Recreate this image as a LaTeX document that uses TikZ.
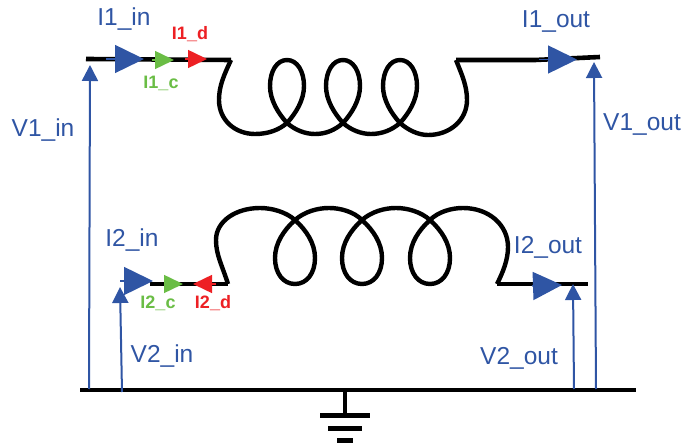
\documentclass[tikz,border=0pt]{standalone}
\usepackage{fontspec}
\usepackage{tikz}
\usepackage{xcolor}
\usetikzlibrary{arrows.meta}
\setmainfont{Liberation Sans}
\definecolor{primary}{RGB}{47, 85, 164}
\definecolor{secondary}{RGB}{237, 32, 36}
\definecolor{tertiary}{RGB}{106, 189, 69}
\tikzset{
    wire/.style={line width=4.6pt, black},
    coil/.style={line width=4.4pt, black, line join=round},
    voltage/.style={line width=2pt, primary, -{Triangle[length=16pt,width=16pt]}},
    mainflow/.style={line width=1.5pt, primary, -{Triangle[length=29pt,width=28pt]}},
    commonflow/.style={line width=1.5pt, tertiary, -{Triangle[length=19pt,width=18pt]}},
    diffflow/.style={line width=1.5pt, secondary, -{Triangle[length=19pt,width=18pt]}},
    biglabel/.style={primary, font=\fontsize{24.5}{26}\selectfont},
    commonlabel/.style={tertiary, font=\fontsize{18}{20}\selectfont\bfseries},
    difflabel/.style={secondary, font=\fontsize{18}{20}\selectfont\bfseries}
}

\begin{document}
\begin{tikzpicture}[x=1pt, y=-1pt]
\useasboundingbox (0,0) rectangle (683,446);

% points
\coordinate (top_l) at (86,59);
\coordinate (top_a) at (231,60);
\coordinate (top_b) at (456,60);
\coordinate (top_c) at (535,60);
\coordinate (top_r) at (600,57);
\coordinate (bot_a) at (228,284);
\coordinate (bot_l) at (150,284);
\coordinate (bot_b) at (497,284);
\coordinate (bot_r) at (588,284);
\coordinate (gnd_l) at (80,390);
\coordinate (gnd_r) at (636,390);
\coordinate (gnd_m) at (345,390);
\coordinate (gnd_s) at (345,415);

% upper winding
\draw[wire] (top_l) -- (top_a);
\draw[wire] (top_b) -- (top_c) -- (top_r);
\draw[coil] (top_a) .. controls (224,75) and (219,86) .. (219,100)
    .. controls (219,120) and (235,134) .. (255,134)
    .. controls (268,134) and (279,130) .. (287,123);
\foreach \x in {287,343,400} {
    \draw[coil] (\x,123) .. controls (\x+9,113) and (\x+17,100) .. (\x+17,86)
        .. controls (\x+17,71) and (\x+10,60) .. (\x,60)
        .. controls (\x-10,60) and (\x-17,71) .. (\x-17,86)
        .. controls (\x-17,100) and (\x-9,113) .. (\x,123);
}
\draw[coil] (287,123) .. controls (295,130) and (305,134) .. (315,134)
    .. controls (326,134) and (335,130) .. (343,123)
    .. controls (351,130) and (361,134) .. (371,134)
    .. controls (382,134) and (392,130) .. (400,123)
    .. controls (408,130) and (418,135) .. (428,135)
    .. controls (450,135) and (467,120) .. (467,100)
    .. controls (467,86) and (462,75) .. (top_b);

% lower winding
\draw[wire] (bot_l) -- (bot_a);
\draw[wire] (bot_b) -- (bot_r);
\draw[coil] (bot_a) .. controls (222,265) and (216,255) .. (216,240)
    .. controls (216,221) and (236,208) .. (260,208)
    .. controls (272,208) and (286,212) .. (295,220);
\foreach \x in {295,362,430} {
    \draw[coil] (\x,220) .. controls (\x+11,230) and (\x+20,243) .. (\x+20,258)
        .. controls (\x+20,273) and (\x+12,284) .. (\x,284)
        .. controls (\x-12,284) and (\x-20,273) .. (\x-20,258)
        .. controls (\x-20,243) and (\x-11,230) .. (\x,220);
}
\draw[coil] (295,220) .. controls (304,212) and (317,208) .. (329,208)
    .. controls (341,208) and (354,212) .. (362,220)
    .. controls (371,212) and (384,208) .. (396,208)
    .. controls (408,208) and (421,212) .. (430,220)
    .. controls (438,212) and (451,208) .. (463,208)
    .. controls (489,208) and (508,225) .. (508,247)
    .. controls (508,260) and (503,272) .. (bot_b);

% ground
\draw[wire] (gnd_l) -- (gnd_r);
\draw[wire] (gnd_m) -- (gnd_s);
\draw[line width=5pt] (320,415) -- (370,415);
\draw[line width=5pt] (328,428) -- (362,428);
\draw[line width=5pt] (337,440) -- (353,440);

% voltages
\coordinate (v1in_b) at (89,389);
\coordinate (v1in_t) at (90,65);
\coordinate (v2in_b) at (122,392);
\coordinate (v2in_t) at (120,287);
\coordinate (v2out_b) at (574,389);
\coordinate (v2out_t) at (573,284);
\coordinate (v1out_b) at (596,389);
\coordinate (v1out_t) at (594,62);
\draw[voltage] (v1in_b) -- (v1in_t);
\draw[voltage] (v2in_b) -- (v2in_t);
\draw[voltage] (v2out_b) -- (v2out_t);
\draw[voltage] (v1out_b) -- (v1out_t);

% currents
\draw[mainflow] (106,59) -- (144,59);
\draw[commonflow] (152,60) -- (174,60);
\draw[diffflow] (185,59) -- (207,59);
\draw[mainflow] (539,59.5) -- (577,59.5);
\draw[mainflow] (120,281) -- (153,281);
\draw[commonflow] (164,284) -- (183,284);
\draw[diffflow] (216,284) -- (193,284);
\draw[mainflow] (532,286) -- (562,285);

% labels
\node[biglabel] (i1in) at (124,19) {I1\_in};
\node[difflabel] (i1d) at (190,34) {I1\_d};
\node[commonlabel] (i1c) at (161,83) {I1\_c};
\node[biglabel] (i1out) at (556,22) {I1\_out};
\node[biglabel] (v1in) at (43,130) {V1\_in};
\node[biglabel] (v1out) at (642,125) {V1\_out};
\node[biglabel] (i2in) at (132,240) {I2\_in};
\node[biglabel] (i2out) at (548,247) {I2\_out};
\node[commonlabel] (i2c) at (158,303) {I2\_c};
\node[difflabel] (i2d) at (213,303) {I2\_d};
\node[biglabel] (v2in) at (162,356) {V2\_in};
\node[biglabel] (v2out) at (519,358) {V2\_out};
\end{tikzpicture}
\end{document}
